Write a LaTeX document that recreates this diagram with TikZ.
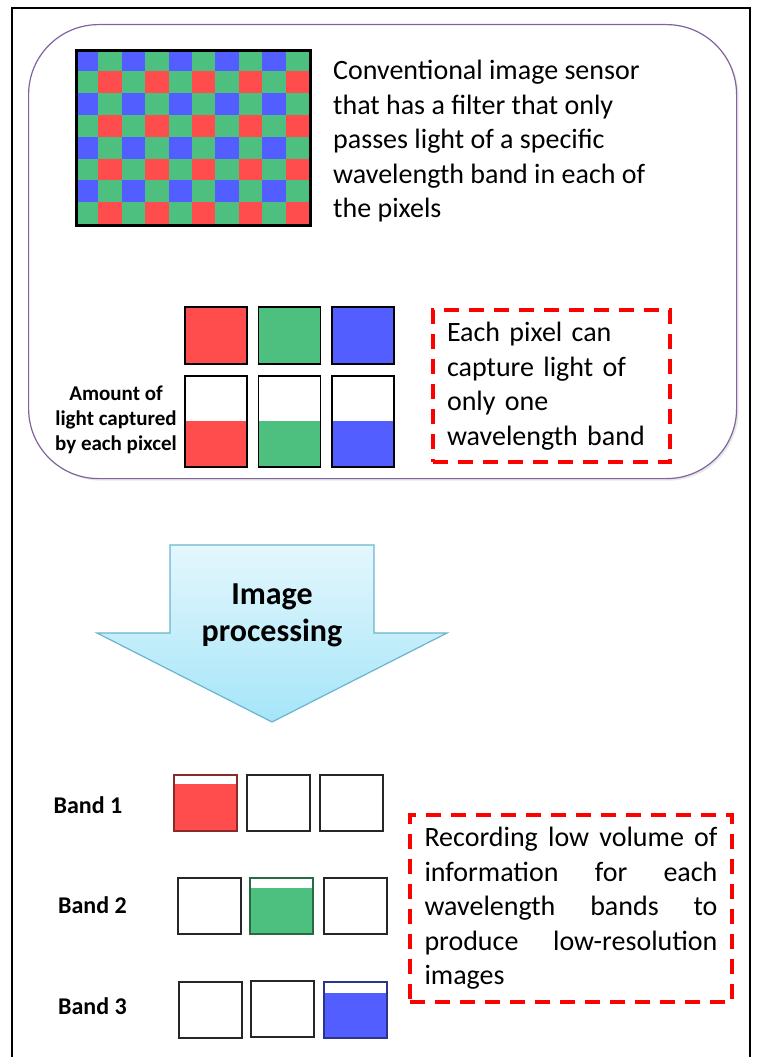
\documentclass[tikz,border=0pt]{standalone}
\usepackage{fontspec}
\setmainfont{Carlito}
\usetikzlibrary{positioning,shadows}

\definecolor{pixred}{RGB}{255,76,76}
\definecolor{pixgreen}{RGB}{77,191,126}
\definecolor{pixblue}{RGB}{82,94,255}
\definecolor{boxpurple}{RGB}{128,100,162}
\definecolor{arrowtop}{RGB}{228,247,253}
\definecolor{arrowbot}{RGB}{165,229,248}
\definecolor{arrowline}{RGB}{105,180,208}

% one justified line of the second note
\newcommand{\jline}[1]{\leavevmode\hbox to 293pt{#1}}

\begin{document}
\begin{tikzpicture}[x=1pt,y=-1pt,
    desc/.style={font=\fontsize{28}{34.5}\selectfont, align=left, inner sep=0pt},
    tag/.style={font=\fontsize{24}{28}\selectfont\bfseries, inner sep=0pt},
    pix/.style={draw=black, line width=1.6pt, inner sep=0pt,
                anchor=north west, minimum width=62pt},
    cell/.style={draw=black!85, line width=1.6pt, inner sep=0pt,
                 anchor=north west, minimum width=63pt, minimum height=56pt},
    level/.style 2 args={path picture={\fill[#1]
        (path picture bounding box.south west)
        rectangle ([yshift=-#2]path picture bounding box.north east);}},
    note/.style={draw=red, line width=3.5pt, dash pattern=on 15pt off 10pt,
                 inner sep=0pt, font=\fontsize{28}{34.5}\selectfont, align=left}
]

\useasboundingbox (0,0) rectangle (756,1057);

% grid size of the sensor
\def\cw{23.4}
\def\ch{21.9}

% --- FRAME ---
\draw[line width=1.3pt] (12,1060) -- (12,8) -- (750,8) -- (750,1060);

% --- SENSOR PANEL ---
\node[draw=boxpurple, line width=1.2pt, rounded corners=70pt, fill=white,
      drop shadow={opacity=0.18, shadow xshift=2pt, shadow yshift=-2pt},
      minimum width=708pt, minimum height=454pt, anchor=north west]
  (panel) at (28,24) {};

% bayer mosaic
\foreach \r in {0,...,7}{
  \foreach \c in {0,...,9}{
    \pgfmathtruncatemacro{\k}{mod(\r,2)*2+mod(\c,2)}
    \ifcase\k \def\cc{pixblue}\or \def\cc{pixgreen}\or
              \def\cc{pixgreen}\or \def\cc{pixred}\fi
    \fill[\cc] (75+\c*\cw,49+\r*\ch) rectangle ++(\cw,\ch);
  }
}
\node[draw=black, line width=3pt, inner sep=0pt, anchor=north west,
      minimum width=234pt, minimum height=175pt] (sensor) at (75,49) {};

\node[desc, anchor=north west] (conv) at (333,60)
  {Conventional image sensor\\that has a filter that only\\passes light of a specific\\
   wavelength band in each of\\the pixels};

% filter pixels
\node[pix, fill=pixred,   minimum height=57pt] (fr) at (184,306) {};
\node[pix, fill=pixgreen, minimum height=57pt] (fg) at (257.5,306) {};
\node[pix, fill=pixblue,  minimum height=57pt] (fb) at (331,306) {};

% captured light
\node[pix, level={pixred}{45pt},   minimum height=91pt] (cr) at (184,375) {};
\node[pix, level={pixgreen}{45pt}, minimum height=91pt] (cg) at (257.5,375) {};
\node[pix, level={pixblue}{45pt},  minimum height=91pt] (cb) at (331,375) {};

\node[font=\fontsize{21}{25}\selectfont\bfseries, align=center, inner sep=0pt]
  (amount) at (116,420) {Amount of\\light captured\\by each pixcel};

\node[note, minimum width=237pt, minimum height=152pt, text width=209pt]
  (note1) at (551.5,386)
  {Each pixel can\\capture light of\\only one\\wavelength band};

% --- IMAGE PROCESSING ---
\draw[arrowline, line width=1.2pt, top color=arrowtop, bottom color=arrowbot]
  (170,545) -- (374,545) -- (374,633) -- (447,633) -- (272,722)
  -- (97,633) -- (170,633) -- cycle;
\node[font=\fontsize{32}{37}\selectfont\bfseries, align=center, inner sep=0pt]
  (proc) at (272,615) {Image\\processing};

% --- BANDS ---
\node[tag] (band1) at (88,805)   {Band 1};
\node[tag] (band2) at (92.5,905) {Band 2};
\node[tag] (band3) at (92.5,1006){Band 3};

\node[cell, level={pixred}{9pt}, draw=pixred!55!black] (b1r) at (173,774) {};
\node[cell] (b1g) at (246,774) {};
\node[cell] (b1b) at (319,774) {};

\node[cell] (b2r) at (177,877) {};
\node[cell, level={pixgreen}{10pt}, draw=pixgreen!55!black] (b2g) at (249,877) {};
\node[cell] (b2b) at (323,877) {};

\node[cell] (b3r) at (178,981) {};
\node[cell] (b3g) at (250,980) {};
\node[cell, level={pixblue}{11pt}, draw=pixblue!55!black] (b3b) at (323,981) {};

\node[note, minimum width=322pt, minimum height=187pt, text width=293pt]
  (note2) at (571,908.5)
  {\jline{Recording\hfill low\hfill volume\hfill of}\\
   \jline{information\hfill for\hfill each}\\
   \jline{wavelength\hfill bands\hfill to}\\
   \jline{produce\hfill low-resolution}\\
   images};

\end{tikzpicture}
\end{document}
